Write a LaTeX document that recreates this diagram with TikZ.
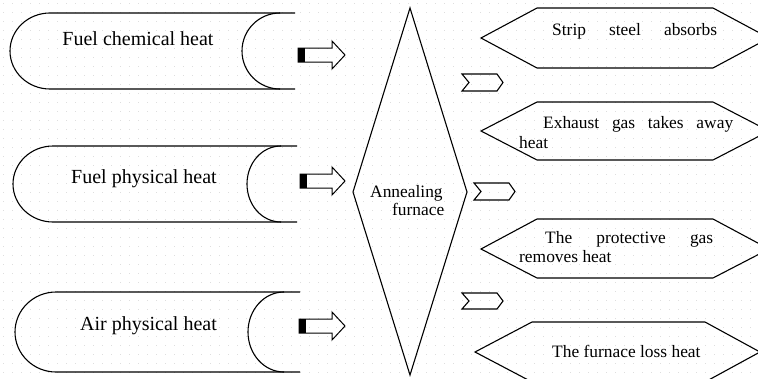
\documentclass[tikz,border=0pt]{standalone}
\usepackage{fontspec}
\setmainfont{Liberation Serif}
\begin{document}
\begin{tikzpicture}[x=1pt,y=-1pt,
  outline/.style={draw=black,line width=1.1pt,line join=miter},
  lefttext/.style={inner sep=0pt,anchor=base,font=\fontsize{20}{24}\selectfont},
  righttext/.style={inner sep=0pt,anchor=base west,font=\fontsize{17.4}{20}\selectfont},
  griddot/.style={fill=black!13}]
\useasboundingbox (0,0) rectangle (758,378);
\clip (0,0) rectangle (758,378);
\fill[white] (0,0) rectangle (758,378);
\foreach \i in {0,...,84} {\foreach \j in {0,...,42} {\fill[griddot] (\i*9+3,\j*9+3) rectangle ++(1,1);}}
% left input shapes
\draw[outline] (295,13) -- (50,13) .. controls (27.9,13) and (10,30) .. (10,51) .. controls (10,72) and (27.9,89) .. (50,89) -- (295,89);
\draw[outline] (280,13) .. controls (259,13) and (242,30) .. (242,51) .. controls (242,72) and (259,89) .. (280,89);
\draw[outline] (297,146) -- (53,146) .. controls (31,146) and (13,163) .. (13,184) .. controls (13,205) and (31,222) .. (53,222) -- (297,222);
\draw[outline] (281,146) .. controls (262,146) and (247,163) .. (247,184) .. controls (247,205) and (262,222) .. (281,222);
\draw[outline] (300,292) -- (56,292) .. controls (33.4,292) and (15,310) .. (15,332) .. controls (15,354) and (33.4,372) .. (56,372) -- (300,372);
\draw[outline] (284,292) .. controls (264,292) and (248,310) .. (248,332) .. controls (248,354) and (264,372) .. (284,372);
\node[lefttext] (t1) at (138,45) {Fuel chemical heat};
\node[lefttext] (t2) at (144,183) {Fuel physical heat};
\node[lefttext] (t3) at (148.5,330) {Air physical heat};
% block arrows
\foreach \x/\c in {298/55,300/181,299/326} {
  \draw[outline,line width=1pt] (\x,\c-7) -- (332,\c-7) -- (332,\c-14) -- (345,\c) -- (332,\c+14) -- (332,\c+7) -- (\x,\c+7) -- cycle;
  \fill[black] (\x,\c-7) rectangle (\x+7,\c+7);
}
% diamond
\draw[outline] (410,8) -- (467,192) -- (410,375) -- (353,192) -- cycle;
\node[righttext] (a1) at (370,197) {Annealing};
\node[righttext] (a2) at (392,215) {furnace};
% chevrons
\foreach \x/\t/\b in {462/74/91,474/183/200,462/293/309} {
  \draw[outline] (\x,\t) -- (\x+35,\t) -- (\x+41,{(\t+\b)/2}) -- (\x+35,\b) -- (\x,\b) -- (\x+7,{(\t+\b)/2}) -- cycle;
}
% hexagons
\draw[outline] (481,38) -- (537,8) -- (713,8) -- (769,38) -- (713,68) -- (537,68) -- cycle;
\draw[outline] (481,131) -- (537,102) -- (713,102) -- (769,131) -- (713,160) -- (537,160) -- cycle;
\draw[outline] (481,249) -- (537,219) -- (713,219) -- (769,249) -- (713,278) -- (537,278) -- cycle;
\draw[outline] (475,352) -- (532,322) -- (705,322) -- (760,352) -- (705,382) -- (532,382) -- cycle;
\node[righttext] (h1) at (552,35) {\makebox[165pt][s]{Strip steel absorbs}};
\node[righttext] (h2a) at (543,128) {\makebox[190pt][s]{Exhaust gas takes away}};
\node[righttext] (h2b) at (519,148) {heat};
\node[righttext] (h3a) at (545,243) {\makebox[168pt][s]{The protective gas}};
\node[righttext] (h3b) at (519,262) {removes heat};
\node[righttext] (h4) at (552,357) {The furnace loss heat};
\end{tikzpicture}
\end{document}
